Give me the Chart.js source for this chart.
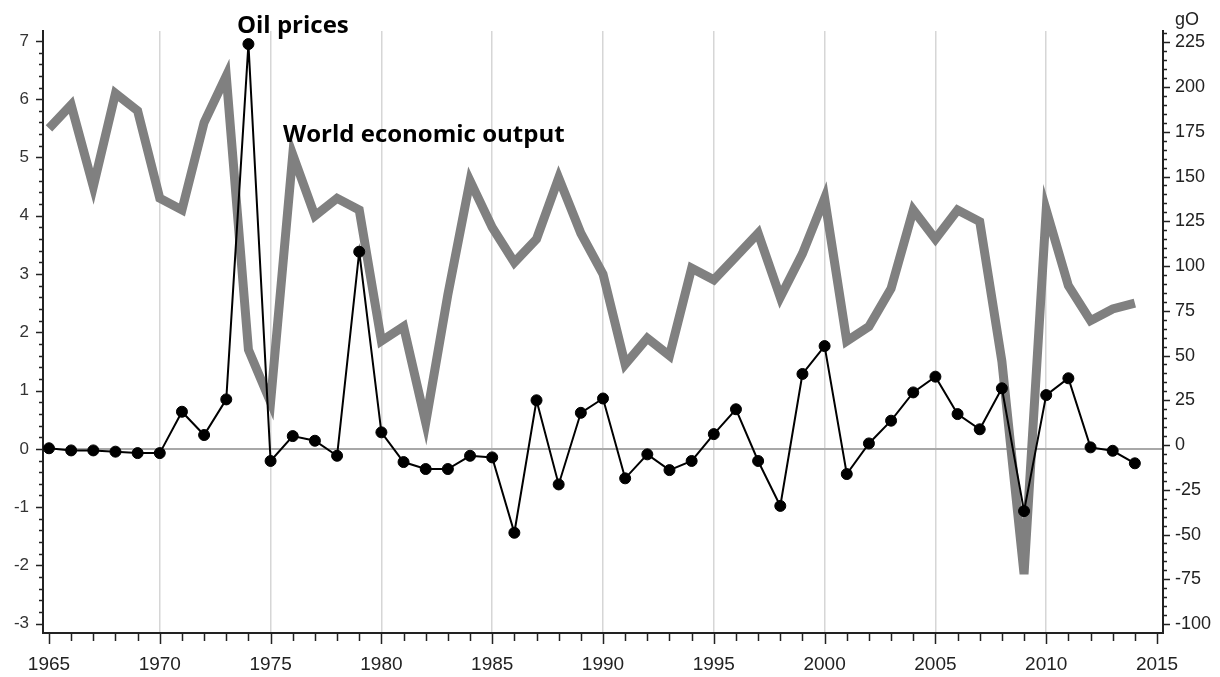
<!DOCTYPE html>
<html>
<head>
<meta charset="utf-8">
<script src="https://cdn.jsdelivr.net/npm/chart.js@4.4.1/dist/chart.umd.min.js"></script>
<style>
    body { margin: 0; background: #fff; }
    #wrap { width: 1220px; height: 677px; position: relative; }
</style>
</head>
<body>
<div id="wrap"><canvas id="myChart"></canvas></div>
<script>
// years on the x axis
const years = [
    1965, 1966, 1967, 1968, 1969, 1970, 1971, 1972, 1973, 1974,
    1975, 1976, 1977, 1978, 1979, 1980, 1981, 1982, 1983, 1984,
    1985, 1986, 1987, 1988, 1989, 1990, 1991, 1992, 1993, 1994,
    1995, 1996, 1997, 1998, 1999, 2000, 2001, 2002, 2003, 2004,
    2005, 2006, 2007, 2008, 2009, 2010, 2011, 2012, 2013, 2014,
];

// world economic output growth, % (left axis)
const worldOutput = [
    5.5, 5.9, 4.5, 6.1, 5.8, 4.3, 4.1, 5.6, 6.4, 1.7,
    0.8, 5.05, 4.0, 4.3, 4.1, 1.85, 2.1, 0.45, 2.65, 4.6,
    3.8, 3.2, 3.6, 4.65, 3.7, 3.0, 1.45, 1.9, 1.6, 3.1,
    2.9, 3.3, 3.7, 2.6, 3.35, 4.3, 1.85, 2.1, 2.75, 4.1,
    3.6, 4.1, 3.9, 1.5, -2.15, 4.1, 2.8, 2.2, 2.4, 2.5,
];

// oil price change, gO (right axis)
const oilPrices = [
    -1.8, -3, -3, -3.7, -4.5, -4.5, 18.6, 5.6, 25.5, 224,
    -8.9, 5, 2.4, -6, 108, 7.1, -9.5, -13.4, -13.4, -6,
    -6.9, -49, 25, -22, 18, 26, -18.6, -5.2, -14, -8.9,
    6.1, 20, -8.9, -34, 39.7, 55.3, -16.2, 0.9, 13.6, 29.4,
    38.2, 17.3, 8.8, 31.7, -36.9, 27.9, 37.3, -1.3, -3.2, -10.2,
];

const xTickLabels = [1965, 1970, 1975, 1980, 1985, 1990, 1995, 2000, 2005, 2010, 2015];
const leftTickLabels = [-3, -2, -1, 0, 1, 2, 3, 4, 5, 6, 7];
const rightTickLabels = [-100, -75, -50, -25, 0, 25, 50, 75, 100, 125, 150, 175, 200, 225];

const notes = [
    { text: "Oil prices", x: 1973.48, y: 7.13 },
    { text: "World economic output", x: 1975.56, y: 5.27 },
];

// small tick marks on the three axes + text notes
const extras = {
    id: "extras",
    afterDraw(chart) {
        const ctx = chart.ctx;
        const area = chart.chartArea;
        const sx = chart.scales.x;
        const yl = chart.scales.y;
        const yr = chart.scales.y2;
        ctx.save();
        ctx.strokeStyle = "#222";
        ctx.lineWidth = 1.5;
        ctx.beginPath();
        for (let i = 0; i <= 50; i++) {
            const v = -3 + i * 0.2;
            const y = Math.round(yl.getPixelForValue(v)) + 0.5;
            const len = i % 5 === 0 ? 7 : 4;
            ctx.moveTo(area.left, y);
            ctx.lineTo(area.left - len, y);
        }
        for (let v = -105; v <= 230; v += 5) {
            const y = Math.round(yr.getPixelForValue(v)) + 0.5;
            if (y > area.bottom || y < area.top) continue;
            const len = v % 25 === 0 ? 7 : 4;
            ctx.moveTo(area.right, y);
            ctx.lineTo(area.right + len, y);
        }
        for (let v = 1965; v <= 2015; v++) {
            const x = Math.round(sx.getPixelForValue(v)) + 0.5;
            const len = v % 5 === 0 ? 11 : 8;
            ctx.moveTo(x, area.bottom);
            ctx.lineTo(x, area.bottom + len);
        }
        ctx.stroke();

        ctx.fillStyle = "#000";
        ctx.font = "bold 24px 'Open Sans'";
        ctx.textBaseline = "alphabetic";
        ctx.textAlign = "left";
        notes.forEach(function (n) {
            ctx.fillText(n.text, sx.getPixelForValue(n.x), yl.getPixelForValue(n.y));
        });

        ctx.fillStyle = "#222";
        ctx.font = "18px 'Liberation Sans'";
        ctx.fillText("gO", area.right + 12, 25);
        ctx.restore();
    },
};

document.addEventListener("DOMContentLoaded", function () {
    const ctx = document.getElementById("myChart");

    new Chart(ctx, {
        type: "line",
        data: {
            datasets: [
                {
                    label: "Oil prices",
                    data: years.map((y, i) => ({ x: y, y: oilPrices[i] })),
                    yAxisID: "y2",
                    borderColor: "#000",
                    borderWidth: 2,
                    backgroundColor: "#000",
                    pointRadius: 5.5,
                    pointBorderWidth: 1,
                    pointBackgroundColor: "#000",
                    tension: 0,
                    clip: false,
                    order: 0,
                },
                {
                    label: "World economic output",
                    data: years.map((y, i) => ({ x: y, y: worldOutput[i] })),
                    yAxisID: "y",
                    borderColor: "#808080",
                    borderWidth: 9,
                    pointRadius: 0,
                    tension: 0,
                    borderJoinStyle: "miter",
                    order: 1,
                },
            ],
        },
        options: {
            responsive: true,
            maintainAspectRatio: false,
            animation: false,
            layout: { padding: { top: 31, left: 0, right: 0, bottom: 0 } },
            plugins: {
                legend: { display: false },
                tooltip: { enabled: false },
            },
            scales: {
                x: {
                    type: "linear",
                    min: 1964.73,
                    max: 2015.27,
                    afterBuildTicks: (s) => { s.ticks = xTickLabels.map((v) => ({ value: v })); },
                    afterFit: (s) => { s.height = 44; },
                    ticks: {
                        callback: (v) => String(v),
                        color: "#222",
                        font: { family: "'Liberation Sans'", size: 19 },
                        padding: 20,
                        maxRotation: 0,
                        autoSkip: false,
                    },
                    grid: {
                        drawTicks: false,
                        lineWidth: 1.5,
                        color: (c) => (c.tick && (c.tick.value === 1965 || c.tick.value === 2015)) ? "rgba(0,0,0,0)" : "#d6d6d6",
                    },
                    border: { display: true, color: "#222", width: 2 },
                },
                y: {
                    position: "left",
                    min: -3.16,
                    max: 7.17,
                    afterBuildTicks: (s) => { s.ticks = leftTickLabels.map((v) => ({ value: v })); },
                    afterFit: (s) => { s.width = 43; },
                    ticks: {
                        color: "#333",
                        font: { family: "'Liberation Sans'", size: 17 },
                        padding: 14,
                        autoSkip: false,
                    },
                    grid: {
                        drawTicks: false,
                        lineWidth: 2,
                        color: (c) => (c.tick && c.tick.value === 0) ? "#a8a8a8" : "rgba(0,0,0,0)",
                    },
                    border: { display: true, color: "#222", width: 2 },
                },
                y2: {
                    position: "right",
                    min: -105,
                    max: 231.3,
                    afterBuildTicks: (s) => { s.ticks = rightTickLabels.map((v) => ({ value: v })); },
                    afterFit: (s) => { s.width = 57; },
                    ticks: {
                        color: "#222",
                        font: { family: "'Liberation Sans'", size: 18 },
                        padding: 12,
                        autoSkip: false,
                    },
                    grid: { drawOnChartArea: false, drawTicks: false },
                    border: { display: true, color: "#222", width: 2 },
                },
            },
        },
        plugins: [extras],
    });
});
</script>
</body>
</html>
